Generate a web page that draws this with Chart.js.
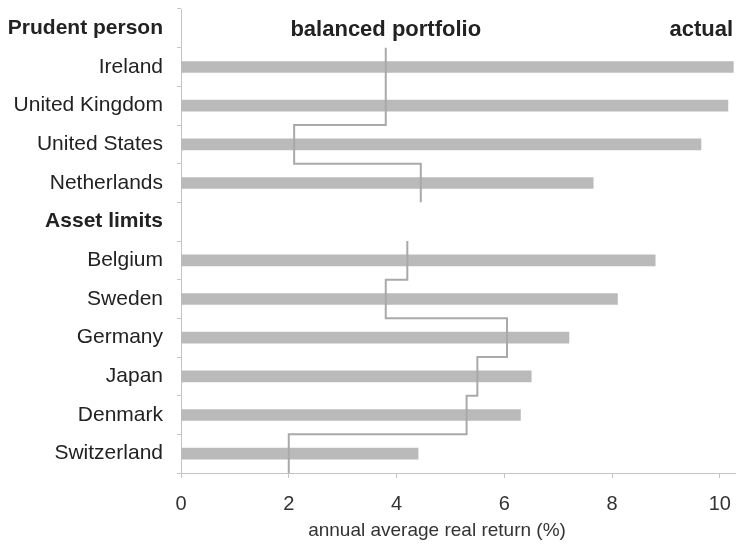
<!DOCTYPE html>
<html>
<head>
<meta charset="utf-8">
<script src="https://cdn.jsdelivr.net/npm/chart.js@4"></script>
<style>
  html, body { margin: 0; padding: 0; background: #fff; }
</style>
</head>
<body>
<canvas id="returnsChart" width="736" height="551"></canvas>
<script>
const categories = [
  'Prudent person', 'Ireland', 'United Kingdom', 'United States', 'Netherlands',
  'Asset limits', 'Belgium', 'Sweden', 'Germany', 'Japan', 'Denmark', 'Switzerland'
];
const groupHeaders = ['Prudent person', 'Asset limits'];

// actual annual average real return (%), null on group header rows
const actualReturn = [null, 10.25, 10.15, 9.65, 7.65, null, 8.8, 8.1, 7.2, 6.5, 6.3, 4.4];
// balanced portfolio return (%), drawn as a step line
const balancedReturn = [null, 3.8, 3.8, 2.1, 4.45, null, 4.2, 3.8, 6.05, 5.5, 5.3, 2.0];

const xMin = 0;
const xMax = 10.3;
const xStep = 2;

// each country covers its whole row band, gaps at the header rows
const stepPoints = [];
balancedReturn.forEach((v, i) => {
  if (v === null) {
    stepPoints.push({ x: null, y: i });
  } else {
    stepPoints.push({ x: v, y: i - 0.5 });
    stepPoints.push({ x: v, y: i + 0.5 });
  }
});

const textColor = '#222';
const axisColor = '#c4c4c4';
const labelFont = "'Liberation Sans', Arial, Helvetica, sans-serif";

const annotations = {
  id: 'annotations',
  afterDraw(chart) {
    const ctx = chart.ctx;
    const x = chart.scales.x;
    const y = chart.scales.y;
    ctx.save();
    ctx.fillStyle = textColor;
    ctx.textBaseline = 'middle';
    ctx.font = 'bold 22px ' + labelFont;
    ctx.textAlign = 'center';
    ctx.fillText('balanced portfolio', x.getPixelForValue(3.8), y.getPixelForValue(0) + 2);
    ctx.textAlign = 'right';
    ctx.fillText('actual', chart.chartArea.right - 3, y.getPixelForValue(0) + 2);
    ctx.font = '19px ' + labelFont;
    ctx.fillStyle = '#333';
    ctx.textAlign = 'center';
    ctx.fillText('annual average real return (%)', 437, 531);
    ctx.restore();
  }
};

function noPadding(scale) {
  scale.paddingTop = 0;
  scale.paddingBottom = 0;
  scale.paddingLeft = 0;
  scale.paddingRight = 0;
}

new Chart(document.getElementById('returnsChart').getContext('2d'), {
  type: 'bar',
  data: {
    labels: categories,
    datasets: [
      {
        type: 'line',
        label: 'balanced portfolio',
        data: stepPoints,
        xAxisID: 'x',
        yAxisID: 'yLine',
        borderColor: '#a9a9a9',
        borderWidth: 2,
        pointRadius: 0,
        tension: 0,
        spanGaps: false,
        order: 0
      },
      {
        label: 'actual',
        data: actualReturn,
        xAxisID: 'x',
        yAxisID: 'y',
        backgroundColor: '#bababa',
        barThickness: 11,
        grouped: false,
        order: 1
      }
    ]
  },
  options: {
    indexAxis: 'y',
    responsive: false,
    animation: false,
    layout: { padding: { top: 9, left: 0, right: 0, bottom: 0 } },
    plugins: {
      legend: { display: false },
      tooltip: { enabled: false },
      title: { display: false }
    },
    scales: {
      x: {
        type: 'linear',
        min: xMin,
        max: xMax,
        grid: { drawOnChartArea: false, drawTicks: true, tickLength: 5, color: axisColor },
        border: { color: axisColor },
        ticks: {
          stepSize: xStep,
          includeBounds: false,
          padding: 14,
          color: '#333',
          font: { family: labelFont, size: 20 }
        },
        afterFit(scale) { scale.height = 78; noPadding(scale); }
      },
      y: {
        type: 'category',
        offset: true,
        grid: { drawOnChartArea: false, drawTicks: true, tickLength: 4, offset: true, color: axisColor },
        border: { color: axisColor },
        ticks: {
          padding: 14,
          color: textColor,
          font: (c) => groupHeaders.includes(categories[c.index])
            ? { family: labelFont, size: 21, weight: 'bold' }
            : { family: labelFont, size: 21 }
        },
        afterFit(scale) { scale.width = 181; noPadding(scale); }
      },
      yLine: {
        type: 'linear',
        display: false,
        offset: false,
        reverse: true,
        min: -0.5,
        max: categories.length - 0.5
      }
    }
  },
  plugins: [annotations]
});
</script>
</body>
</html>
